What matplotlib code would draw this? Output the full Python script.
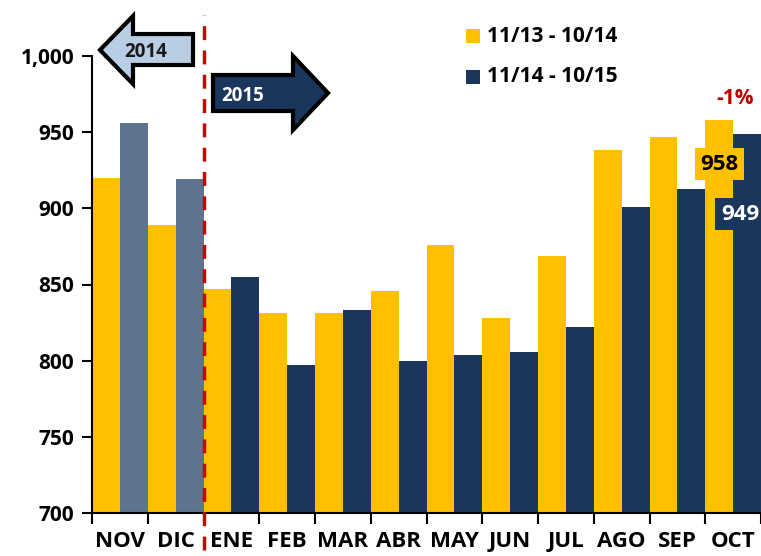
import numpy as np
import matplotlib.pyplot as plt
from matplotlib.patches import Polygon
from matplotlib.ticker import FuncFormatter

months = ["NOV", "DIC", "ENE", "FEB", "MAR", "ABR", "MAY", "JUN", "JUL", "AGO", "SEP", "OCT"]
prev_year = [920, 889, 847, 831, 831, 846, 876, 828, 869, 938, 947, 958]
this_year = [956, 919, 855, 797, 833, 800, 804, 806, 822, 901, 913, 949]
legend_labels = ["11/13 - 10/14", "11/14 - 10/15"]

YELLOW = "#ffc000"
NAVY = "#1a365d"
GRAY = "#5f7391"
FONT = "Open Sans"

W, H = 761, 556
fig = plt.figure(figsize=(W / 100, H / 100), dpi=100)

ax = fig.add_axes([92 / W, 1 - 513 / H, 1 - 92 / W, (513 - 56) / H])
ax.patch.set_alpha(0)

x = np.arange(len(months))
# first two months of the new series are still 2014 -> gray
colors = [GRAY if i < 2 else NAVY for i in x]
ax.bar(x - 0.25, prev_year, width=0.5, color=YELLOW, zorder=2)
ax.bar(x + 0.25, this_year, width=0.5, color=colors, zorder=2)

ax.set_ylim(700, 1000)
ax.set_xlim(-0.5, 11.45)
ax.set_yticks([700, 750, 800, 850, 900, 950, 1000])
ax.yaxis.set_major_formatter(FuncFormatter(lambda v, p: f"{int(v):,}"))
ax.set_xticks(np.arange(-0.5, 12, 1))
ax.set_xticklabels([])
ax.set_xticks(x, minor=True)
ax.set_xticklabels(months, minor=True)
ax.tick_params(axis="x", which="major", length=8, width=1.5, direction="out")
ax.tick_params(axis="x", which="minor", length=0, pad=13)
ax.tick_params(axis="y", length=7, width=1.5, pad=6)
for lab in ax.get_xticklabels(minor=True):
    lab.set_fontfamily(FONT)
    lab.set_fontweight("bold")
    lab.set_fontsize(16)
for lab in ax.get_yticklabels():
    lab.set_fontfamily(FONT)
    lab.set_fontweight("bold")
    lab.set_fontsize(15)
for s in ["top", "right"]:
    ax.spines[s].set_visible(False)
for s in ["left", "bottom"]:
    ax.spines[s].set_linewidth(1.5)

# red dashed separator between 2014 and 2015
ax.axvline(1.5, ymin=-0.08, ymax=1.09, color="#d00000", lw=2.5, ls=(0, (4, 3)),
           clip_on=False, zorder=3)

# arrows drawn in pixel coordinates
def px(pts):
    return [(a / W, 1 - b / H) for a, b in pts]

arrow14 = px([(100, 50), (133, 16), (133, 34), (193, 34), (193, 65), (133, 65), (133, 84)])
arrow15 = px([(213, 75), (293, 75), (293, 56), (328, 93), (293, 130), (293, 111), (213, 111)])
fig.patches.append(Polygon(arrow14, closed=True, facecolor="#b9cde5", edgecolor="black",
                           lw=3, transform=fig.transFigure, zorder=4))
fig.patches.append(Polygon(arrow15, closed=True, facecolor=NAVY, edgecolor="black",
                           lw=3, transform=fig.transFigure, zorder=4))
fig.text(146 / W, 1 - 52 / H, "2014", fontsize=13.5, fontweight="bold", family=FONT,
         color="#1a1a1a", ha="center", va="center", zorder=5)
fig.text(243 / W, 1 - 96 / H, "2015", fontsize=13.5, fontweight="bold", family=FONT,
         color="white", ha="center", va="center", zorder=5)

# legend
for (yc, col, lab) in [(36, YELLOW, legend_labels[0]), (77, NAVY, legend_labels[1])]:
    fig.patches.append(plt.Rectangle((466 / W, 1 - (yc + 7) / H), 14 / W, 14 / H,
                                     facecolor=col, transform=fig.transFigure))
    fig.text(487 / W, 1 - yc / H, lab, fontsize=15, fontweight="bold", family=FONT,
             ha="left", va="center")

# annotations on October
fig.text(735 / W, 1 - 98 / H, "-1%", fontsize=15, fontweight="bold", family=FONT,
         color="#c00000", ha="center", va="center")
ax.text(10.76, 929, str(prev_year[-1]), fontsize=16, family=FONT,
        fontweight="bold", ha="center", va="center", color="black", zorder=5,
        bbox=dict(boxstyle="square,pad=0.25", fc=YELLOW, ec="none"))
ax.text(10.78, 896, str(this_year[-1]), fontsize=16, family=FONT,
        fontweight="bold", ha="left", va="center", color="white", zorder=5,
        bbox=dict(boxstyle="square,pad=0.25", fc=NAVY, ec="none"))

fig.savefig("out.png", dpi=100)
